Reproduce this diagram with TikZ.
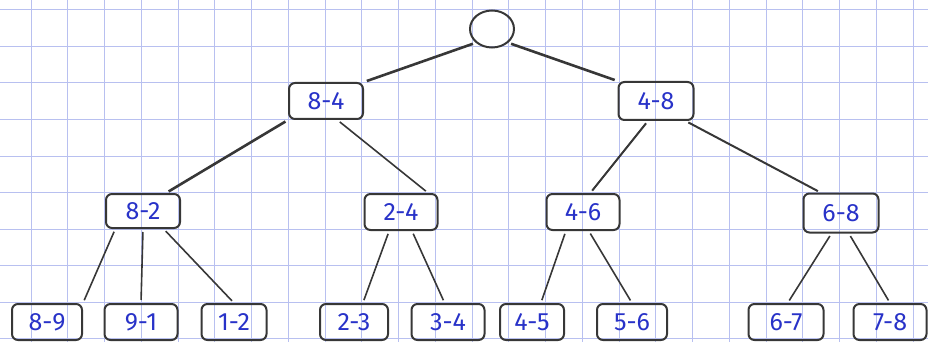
\documentclass[tikz,border=0pt]{standalone}
\usepackage{fontspec}
\setmainfont{Fira Sans}
\usepackage{tikz}
\usetikzlibrary{arrows,positioning,shapes.geometric}

\definecolor{gridblue}{RGB}{184,192,240}
\definecolor{inkblue}{RGB}{40,50,200}
\definecolor{pencil}{RGB}{55,55,55}

\tikzset{
	box/.style={draw=pencil, line width=2pt, rounded corners=6pt, text=inkblue,
		minimum width=72pt, minimum height=36pt, inner sep=0pt,
		font=\fontsize{25}{28}\selectfont},
	leaf/.style={box, minimum width=70pt},
	link/.style={draw=pencil, line width=1.6pt, shorten <=3pt, shorten >=3pt},
	biglink/.style={link, line width=2.6pt}
}

\begin{document}
\begin{tikzpicture}[x=1pt,y=-1pt]
		\useasboundingbox (0,0) rectangle (928,342);
		
		% squared paper
		\foreach \i in {0,...,24}
			\draw[gridblue, line width=1pt] (31+36.75*\i,0) -- (31+36.75*\i,342);
		\foreach \j in {0,...,9}
			\draw[gridblue, line width=1pt] (0,10+36.5*\j) -- (928,10+36.5*\j);
		
		% root
		\node[ellipse, draw=pencil, line width=2pt, minimum width=44pt, minimum height=37pt, inner sep=0pt] (root) at (492,29) {};
		
		% first level
		\node[box, minimum width=74pt] (n84) at (326,101) {8-4};
		\node[box, minimum width=75pt, minimum height=38pt] (n48) at (656,101) {4-8};
		
		% second level
		\node[box, minimum width=74pt, minimum height=34pt] (n82) at (143,211) {8-2};
		\node[box, minimum width=73pt] (n24) at (401,212) {2-4};
		\node[box, minimum width=73pt] (n46) at (583,212) {4-6};
		\node[box, minimum width=75pt, minimum height=39pt] (n68) at (841,213) {6-8};
		
		% leaves
		\node[leaf] (n89) at (47,322) {8-9};
		\node[leaf, minimum width=73pt] (n91) at (141,322) {9-1};
		\node[leaf, minimum width=65pt] (n12) at (234,322) {1-2};
		\node[leaf, minimum width=68pt] (n23) at (354,322) {2-3};
		\node[leaf, minimum width=73pt] (n34) at (448,322) {3-4};
		\node[leaf, minimum width=64pt] (n45) at (532,322) {4-5};
		\node[leaf] (n56) at (632,322) {5-6};
		\node[leaf, minimum width=75pt] (n67) at (786,322) {6-7};
		\node[leaf, minimum width=73pt] (n78) at (890,322) {7-8};
		
		% edges
		\draw[biglink] (root.south west) -- (n84.north east);
		\draw[biglink] (root.south east) -- (n48.north west);
		\draw[biglink] (n84.south west) -- (n82.38);
		\draw[link] (n84.-59) -- (n24.35);
		\draw[link, line width=2pt] (n48.248) -- (n46.69);
		\draw[link, line width=2pt] (n48.-34) -- (n68.135);
		
		\draw[link] (n82.213) -- (n89.north east);
		\draw[link] (n82.south) -- (n91.north);
		\draw[link] (n82.-41) -- (n12.north);
		\draw[link] (n24.238) -- (n23.65);
		\draw[link] (n24.-60) -- (n34.100);
		\draw[link] (n46.228) -- (n45.65);
		\draw[link] (n46.-73) -- (n56.north);
		\draw[link] (n68.245) -- (n67.85);
		\draw[link] (n68.-69) -- (n78.north);
	\end{tikzpicture}
\end{document}
